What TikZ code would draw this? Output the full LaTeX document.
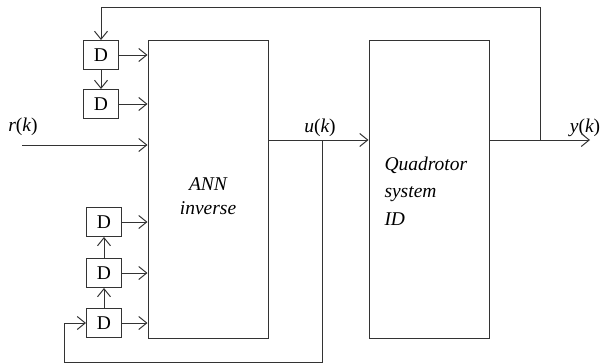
\documentclass[tikz,border=0pt]{standalone}
\usepackage{fontspec}
\setmainfont{Liberation Serif}
\usetikzlibrary{arrows.meta}
\begin{document}
\begin{tikzpicture}[x=1pt,y=-1pt,
  line width=1pt, draw=black!80,
  arr/.style={-{Straight Barb[length=8pt,width=13pt,line width=1pt]}},
  dbox/.style={draw=black!80, minimum width=35pt, minimum height=29pt, inner sep=0pt, font=\fontsize{19.5}{22}\selectfont},
  lbl/.style={font=\fontsize{19.5}{22}\selectfont, inner sep=0pt, anchor=base},
  txt/.style={font=\fontsize{19.5}{22}\selectfont\itshape, inner sep=0pt}]
\useasboundingbox (0,0) rectangle (603,364);
% main blocks
\node[draw=black!80, minimum width=120pt, minimum height=298pt, inner sep=0pt] (ann) at (208,189) {};
\node[draw=black!80, minimum width=120pt, minimum height=298pt, inner sep=0pt] (quad) at (429,189) {};
\node[txt, anchor=base] (t1) at (208,190) {ANN};
\node[txt, anchor=base] (t2) at (208,214) {inverse};
\node[txt, anchor=base west] (q1) at (384,170) {Quadrotor};
\node[txt, anchor=base west] (q2) at (384,197) {system};
\node[txt, anchor=base west] (q3) at (384,225) {ID};
% delay boxes
\node[dbox] (d1) at (101,55) {D};
\node[dbox] (d2) at (101,104) {D};
\node[dbox] (d3) at (104,222) {D};
\node[dbox] (d4) at (104,273) {D};
\node[dbox] (d5) at (104,323) {D};
% coordinates
\coordinate (rin) at (22,145);
\coordinate (ul) at (ann.east |- 0,140);
\coordinate (br) at (322,140);
\coordinate (yout) at (590,140);
\coordinate (yb) at (540,140);
\coordinate (ytop) at (540,7);
\coordinate (dtop) at (101,7);
\coordinate (bot1) at (322,362.5);
\coordinate (bot2) at (64,362.5);
\coordinate (bot3) at (64,323);
% labels
\node[lbl] (rl) at (23,131) {{\itshape r}({\itshape k})};
\node[lbl] (ulb) at (320,132) {{\itshape u}({\itshape k})};
\node[lbl] (yl) at (585,132) {{\itshape y}({\itshape k})};
% connectors
\draw[arr] (d1) -- (d2);
\draw[arr] (d5) -- (d4);
\draw[arr] (d4) -- (d3);
\draw[arr] (d1.east) -- (d1.east -| ann.west);
\draw[arr] (d2.east) -- (d2.east -| ann.west);
\draw[arr] (d3.east) -- (d3.east -| ann.west);
\draw[arr] (d4.east) -- (d4.east -| ann.west);
\draw[arr] (d5.east) -- (d5.east -| ann.west);
\draw[arr] (rin) -- (rin -| ann.west);
\draw[arr] (ul) -- (ul -| quad.west);
\draw[arr] (quad.east |- yout) -- (yout);
\draw[arr] (yb) -- (ytop) -- (dtop) -- (d1.north);
\draw[arr] (br) -- (bot1) -- (bot2) -- (bot3) -- (d5.west);
\end{tikzpicture}
\end{document}
